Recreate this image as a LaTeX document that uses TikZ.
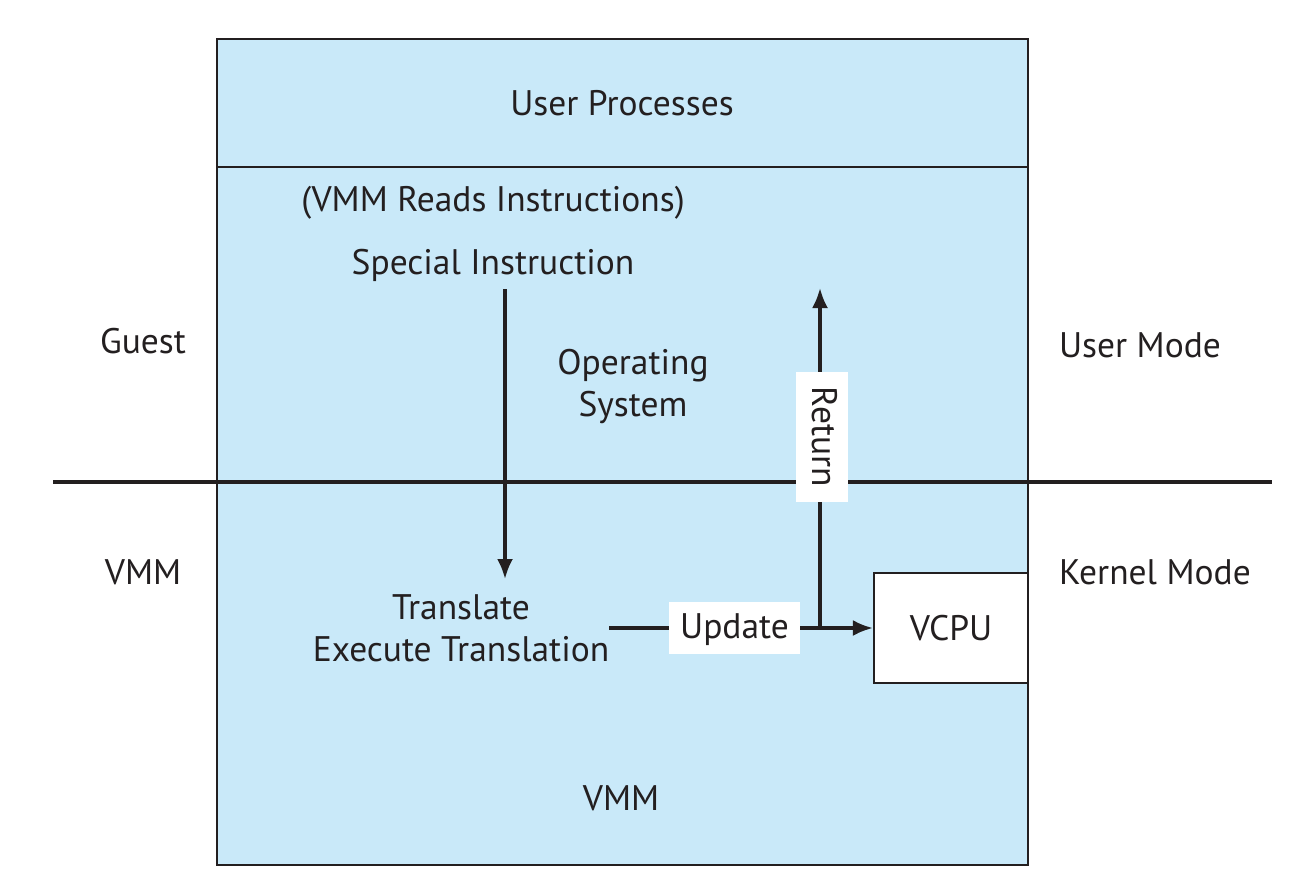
\documentclass[tikz,border=0pt]{standalone}
\usepackage{fontspec}
\setmainfont{PT Sans}
\usetikzlibrary{arrows.meta}
\definecolor{vmblue}{RGB}{201,233,249}
\definecolor{ink}{RGB}{35,31,32}
\begin{document}
\begin{tikzpicture}[x=1pt,y=-1pt,
  lbl/.style={font=\fontsize{35.5}{42}\selectfont, text=ink, inner sep=0pt, align=center},
  wlbl/.style={lbl, fill=white, inner sep=0pt, minimum height=52pt, text height=25pt, text depth=5pt},
  conn/.style={draw=ink, line width=3.2pt, -{Latex[length=20pt,width=16pt]}},
  frame/.style={draw=ink, line width=2.2pt}]
\useasboundingbox (0,0) rectangle (1298,892);
% outer box
\fill[vmblue] (217,39) rectangle (1028,865);
\draw[frame] (217,39) rectangle (1028,865);
\draw[frame] (217,167) -- (1028,167);
% mode line
\coordinate (ml) at (53,482);
\coordinate (mr) at (1272,482);
\draw[ink, line width=3.2pt] (ml) -- (mr);
% VCPU
\node[frame, fill=white, minimum width=154pt, minimum height=110pt, inner sep=0pt, font=\fontsize{35.5}{42}\selectfont, text=ink] (vcpu) at (951,628) {VCPU};
% texts
\node[lbl] (up) at (622,103) {User Processes};
\node[lbl] (vri) at (493,203) {(VMM Reads Instructions)};
\node[lbl] (si) at (493,265) {Special Instruction};
\node[lbl] (os) at (633,386) {Operating\\System};
\node[lbl] (guest) at (143,341) {Guest};
\node[lbl] (umode) at (1140,345) {User Mode};
\node[lbl] (vmml) at (143,572) {VMM};
\node[lbl] (kmode) at (1155,572) {Kernel Mode};
\node[lbl] (tr) at (461,628) {Translate\\Execute Translation};
\node[lbl] (vmmb) at (621,798) {VMM};
% down arrow
\coordinate (d1) at (505,289);
\coordinate (d2) at (505,579);
\draw[conn] (d1) -- (d2);
% update line
\coordinate (u0) at (609,628);
\coordinate (jn) at (820,628);
\draw[conn] (u0) -- (vcpu.west);
\node[wlbl, minimum width=131pt] (upd) at (734.5,628) {Update};
% return arrow
\coordinate (rt) at (820,288);
\draw[conn] (jn) -- (rt);
\node[wlbl, minimum width=130pt, rotate=-90] (ret) at (822,437) {Return};
\end{tikzpicture}
\end{document}
